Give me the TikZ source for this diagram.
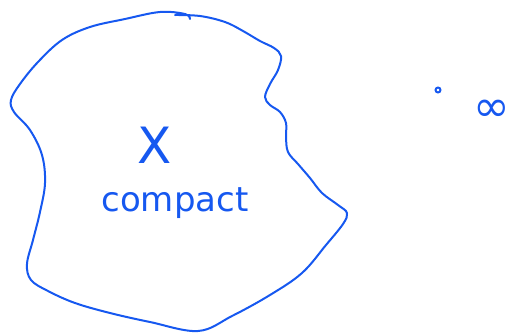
\documentclass[tikz,border=0pt]{standalone}
\usepackage{fontspec}
\setmainfont{DejaVu Sans}
\definecolor{ink}{RGB}{22,88,240}
\tikzset{pen/.style={draw=ink,line width=2pt,line cap=round,line join=round},
  inktext/.style={text=ink,inner sep=0pt}}
\begin{document}
\begin{tikzpicture}[x=1pt,y=-1pt]
\useasboundingbox (0,0) rectangle (514,335);
% blob (set X)
\draw[pen] plot[smooth,tension=0.6] coordinates {
 (190,19) (185,14) (160,12) (125,19) (90,27) (62,40) (38,62) (20,84) (11,100) (14,112)
 (30,130) (42,155) (45,183) (40,212) (33,240) (27,264) (31,280) (48,291) (75,303)
 (110,313) (150,322) (198,331) (232,316) (270,295) (302,273) (326,245) (343,224)
 (347,213) (338,205) (322,193) (310,178) (298,164) (288,152) (286,137) (286,123)
 (280,112) (270,105) (265,97) (270,84) (278,70) (281,56) (274,48) (260,41)
 (243,31) (225,22) (200,16) (175,15)};
\node[inktext,font=\fontsize{50}{50}\selectfont] (X) at (155,145) {X};
\node[inktext,font=\fontsize{34}{34}\selectfont] (compact) at (175,203) {compact};
\draw[pen] (438,90) circle (2.5) coordinate (pt);
\node[inktext,font=\fontsize{44}{44}\selectfont] (inf) at (492,111) {∞};
\end{tikzpicture}
\end{document}
